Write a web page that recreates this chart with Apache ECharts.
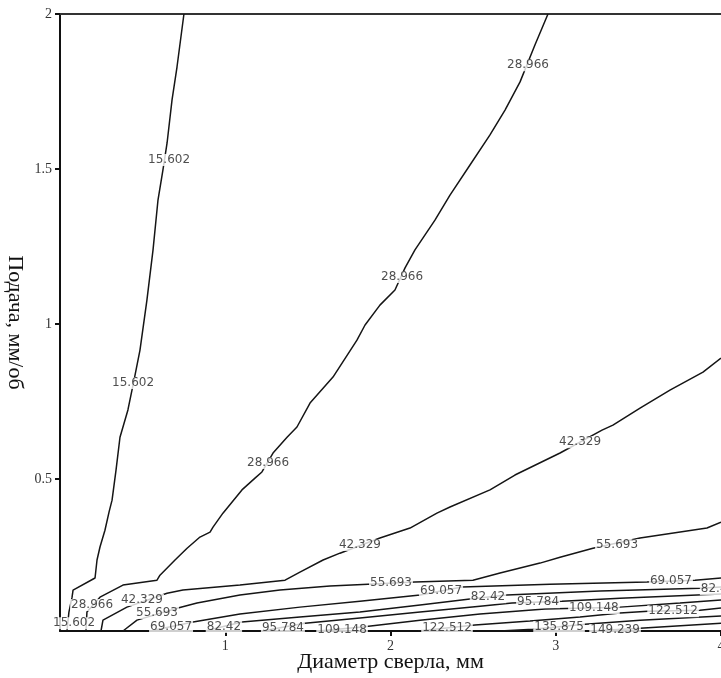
<!DOCTYPE html>
<html>
<head>
<meta charset="utf-8">
<script src="https://cdn.jsdelivr.net/npm/echarts@6/dist/echarts.min.js"></script>
<style>html,body{margin:0;padding:0;background:#fff}#c{width:721px;height:678px}</style>
</head>
<body>
<div id="c"></div>
<script>
const xTicks = [1, 2, 3, 4];
const yTicks = [0.5, 1, 1.5, 2];
const levels = ['15.602','28.966','42.329','55.693','69.057','82.42','95.784','109.148','122.512','135.875','149.239'];

const line15602 = [[0.750,2.000],[0.708,1.829],[0.678,1.723],[0.648,1.584],[0.623,1.497],[0.593,1.400],[0.563,1.239],[0.526,1.077],[0.484,0.916],[0.448,0.819],[0.411,0.723],[0.363,0.635],[0.339,0.529],[0.315,0.432],[0.297,0.394],[0.272,0.335],[0.242,0.281],[0.224,0.239],[0.212,0.181],[0.079,0.142],[0.073,0.119],[0.054,0.071],[0.042,0.010]];
const line28966 = [[2.953,2.000],[2.874,1.900],[2.784,1.781],[2.693,1.690],[2.602,1.610],[2.481,1.513],[2.360,1.416],[2.269,1.335],[2.148,1.239],[2.088,1.181],[2.027,1.110],[1.936,1.061],[1.846,0.997],[1.797,0.948],[1.652,0.829],[1.513,0.745],[1.434,0.668],[1.374,0.635],[1.289,0.584],[1.222,0.523],[1.180,0.503],[1.101,0.465],[0.986,0.390],[0.926,0.345],[0.908,0.329],[0.847,0.313],[0.769,0.277],[0.696,0.239],[0.605,0.190],[0.587,0.174],[0.381,0.158],[0.242,0.119],[0.163,0.071],[0.157,0.010]];
const line42329 = [[4.000,0.890],[3.891,0.845],[3.691,0.787],[3.510,0.729],[3.346,0.674],[3.280,0.658],[3.026,0.584],[2.753,0.513],[2.602,0.465],[2.360,0.410],[2.281,0.390],[2.118,0.342],[1.936,0.310],[1.694,0.261],[1.592,0.239],[1.452,0.200],[1.362,0.174],[1.089,0.158],[0.744,0.142],[0.648,0.132],[0.405,0.087],[0.260,0.045],[0.248,0.010]];
const line55693 = [[4.000,0.361],[3.915,0.342],[3.510,0.310],[3.225,0.277],[3.026,0.248],[2.905,0.229],[2.663,0.197],[2.499,0.174],[2.148,0.168],[1.864,0.161],[1.634,0.155],[1.331,0.142],[1.089,0.126],[0.829,0.100],[0.714,0.084],[0.466,0.045],[0.381,0.010]];
const line69057 = [[0.545,0.010],[0.805,0.039],[1.089,0.065],[1.452,0.087],[1.815,0.106],[2.179,0.126],[2.433,0.152],[2.965,0.161],[3.552,0.168],[3.843,0.174],[4.000,0.181]];
const line82420 = [[0.877,0.010],[1.101,0.039],[1.452,0.055],[1.815,0.071],[2.179,0.094],[2.481,0.113],[2.705,0.126],[3.268,0.139],[3.873,0.148],[4.000,0.152]];
const line95784 = [[1.222,0.010],[1.483,0.035],[1.815,0.052],[2.179,0.071],[2.542,0.090],[2.735,0.100],[3.038,0.106],[3.389,0.116],[4.000,0.129]];
const line109148 = [[1.561,0.010],[1.828,0.023],[2.179,0.045],[2.542,0.065],[2.935,0.081],[3.389,0.087],[3.752,0.100],[4.000,0.110]];
const line122512 = [[2.166,0.010],[2.511,0.029],[2.844,0.042],[3.147,0.055],[3.389,0.068],[3.558,0.074],[3.873,0.077],[4.000,0.084]];
const line135875 = [[2.663,0.010],[2.862,0.016],[3.177,0.032],[3.510,0.045],[4.000,0.058]];
const line149239 = [[3.207,0.010],[3.510,0.019],[4.000,0.035]];

const labels15602 = [[0.660,1.529],[0.442,0.810],[0.085,0.035]];
const labels28966 = [[2.832,1.835],[2.070,1.152],[1.259,0.552],[0.194,0.094]];
const labels42329 = [[3.147,0.619],[1.815,0.287],[0.496,0.110]];
const labels55693 = [[3.371,0.287],[2.003,0.165],[0.587,0.068]];
const labels69057 = [[0.672,0.023],[2.306,0.139],[3.697,0.171]];
const labels82420 = [[0.992,0.023],[2.590,0.119],[3.982,0.145]];
const labels95784 = [[1.349,0.019],[2.893,0.103]];
const labels109148 = [[1.707,0.013],[3.231,0.084]];
const labels122512 = [[2.342,0.019],[3.710,0.074]];
const labels135875 = [[3.020,0.023]];
const labels149239 = [[3.359,0.013]];

const lines = [line15602,line28966,line42329,line55693,line69057,line82420,line95784,line109148,line122512,line135875,line149239];
const labelSets = [labels15602,labels28966,labels42329,labels55693,labels69057,labels82420,labels95784,labels109148,labels122512,labels135875,labels149239];

const labelData = [];
labelSets.forEach((set, i) => set.forEach(p => labelData.push([p[0], p[1], levels[i]])));

const series = lines.map((d, i) => ({
  type: 'line', name: levels[i], data: d, showSymbol: false, symbol: 'none',
  lineStyle: { color: '#151515', width: 1.5 }, silent: true, z: 2
}));
series.push({
  type: 'scatter', data: labelData, symbolSize: 1, itemStyle: { color: 'rgba(0,0,0,0)' }, z: 5,
  label: { show: true, position: 'inside', formatter: p => p.value[2], fontFamily: 'DejaVu Sans', fontSize: 12,
    color: '#222', backgroundColor: '#fff', padding: [0, 1] }
});

const serif = 'Liberation Serif';
const chart = echarts.init(document.getElementById('c'), null, { renderer: 'canvas' });
chart.setOption({
  animation: false,
  backgroundColor: '#fff',
  grid: { left: 60, right: 0, top: 14, bottom: 47, outerBoundsMode: 'none', containLabel: false },
  xAxis: [{
    type: 'value', min: 0, max: 4, position: 'bottom',
    name: 'Диаметр сверла, мм', nameLocation: 'middle', nameGap: 20, nameMoveOverlap: false,
    nameTextStyle: { fontFamily: serif, fontSize: 22, color: '#111' },
    axisLine: { show: true, lineStyle: { color: '#111', width: 2 } },
    axisTick: { show: true, length: 5, customValues: xTicks, lineStyle: { color: '#111', width: 2 } },
    axisLabel: { customValues: xTicks, fontFamily: serif, fontSize: 14, color: '#333', margin: 8 },
    splitLine: { show: false }
  }, {
    type: 'value', min: 0, max: 4, position: 'top',
    axisLine: { show: true, onZero: false, lineStyle: { color: '#333', width: 2 } },
    axisTick: { show: false }, axisLabel: { show: false }, splitLine: { show: false }
  }],
  yAxis: {
    type: 'value', min: 0.01, max: 2,
    name: 'Подача, мм/об', nameLocation: 'middle', nameGap: 34, nameRotate: -90, nameMoveOverlap: false,
    nameTextStyle: { fontFamily: serif, fontSize: 22, color: '#111' },
    axisLine: { show: true, lineStyle: { color: '#111', width: 2 } },
    axisTick: { show: true, length: 5, customValues: yTicks, lineStyle: { color: '#111', width: 2 } },
    axisLabel: { customValues: yTicks, fontFamily: serif, fontSize: 14, color: '#333', margin: 8 },
    splitLine: { show: false }
  },
  series: series
});
</script>
</body>
</html>
